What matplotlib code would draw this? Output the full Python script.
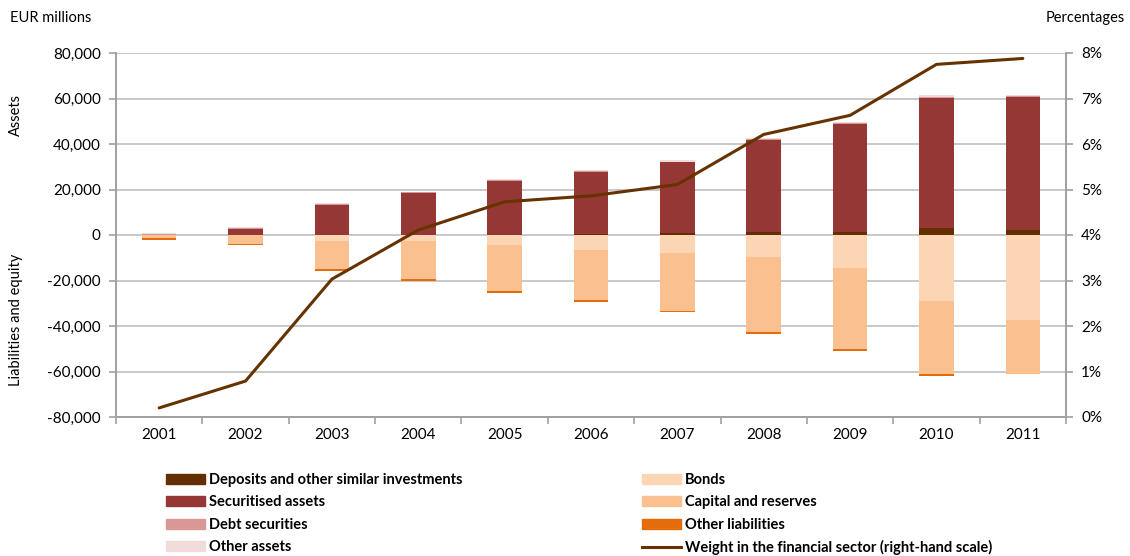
import matplotlib
matplotlib.use("Agg")
import matplotlib.pyplot as plt
import numpy as np
from matplotlib.patches import Patch
from matplotlib.lines import Line2D
from matplotlib.ticker import FuncFormatter, MultipleLocator

plt.rcParams['font.family'] = ['Lato', 'DejaVu Sans']

years = ['2001', '2002', '2003', '2004', '2005', '2006', '2007', '2008', '2009', '2010', '2011']

# Assets (EUR millions)
deposits = [0, 0, 100, 200, 200, 300, 700, 1500, 1500, 3000, 2300]
securitised = [0, 2800, 13200, 18400, 23700, 27500, 31300, 40200, 47100, 57300, 58200]
debt_securities = [600, 200, 300, 200, 300, 300, 300, 400, 500, 500, 500]
other_assets = [300, 500, 500, 300, 400, 500, 500, 600, 700, 600, 600]

# Liabilities and equity (EUR millions)
bonds = [0, 0, -2500, -2600, -4400, -6600, -7800, -9700, -14500, -29200, -37400]
capital = [-1300, -3800, -12600, -16900, -20200, -21800, -25500, -32800, -35600, -32100, -23900]
other_liab = [-700, -500, -600, -700, -700, -900, -600, -1200, -800, -700, 0]

# Weight in the financial sector (%)
weight = [0.2, 0.79, 3.03, 4.11, 4.73, 4.86, 5.11, 6.21, 6.63, 7.75, 7.88]

c_dep = '#632F00'
c_sec = '#953735'
c_debt = '#D99795'
c_oth = '#F2DCDB'
c_bond = '#FCD5B5'
c_cap = '#FAC090'
c_oliab = '#E46C0A'
c_line = '#663300'
grid_c = '#BFBFBF'

fig = plt.figure(figsize=(11.3, 5.56), dpi=100)
ax = fig.add_axes([116/1130, 1-417/556, (1066-116)/1130, (417-53)/556])
ax2 = ax.twinx()

x = np.arange(len(years))
w = 0.4

# positive stack
bottom = np.zeros(len(years))
for vals, col in [(deposits, c_dep), (securitised, c_sec), (debt_securities, c_debt), (other_assets, c_oth)]:
    v = np.array(vals, dtype=float)
    ax.bar(x, v, w, bottom=bottom, color=col, zorder=3, linewidth=0)
    bottom += v
# negative stack
bottom = np.zeros(len(years))
for vals, col in [(bonds, c_bond), (capital, c_cap), (other_liab, c_oliab)]:
    v = np.array(vals, dtype=float)
    ax.bar(x, v, w, bottom=bottom, color=col, zorder=3, linewidth=0)
    bottom += v

ax.set_ylim(-80000, 80000)
ax.set_xlim(-0.5, len(years) - 0.5)
ax.yaxis.set_major_locator(MultipleLocator(20000))
ax.yaxis.set_major_formatter(FuncFormatter(lambda v, p: f'{int(v):,}'))
ax.grid(axis='y', color=grid_c, linewidth=1.2, zorder=0)
ax.set_axisbelow(True)
ax.set_xticks(x)
ax.set_xticklabels(years)
ax.set_xticks(np.arange(-0.5, len(years)), minor=True)
ax.tick_params(axis='x', which='major', length=0, labelsize=11, pad=8, colors='#000000')
ax.tick_params(axis='x', which='minor', length=5, color='#A0A0A0', width=1.2)
ax.tick_params(axis='y', length=5, color='#A0A0A0', width=1.2, labelsize=11, pad=6)

for s in ['top']:
    ax.spines[s].set_visible(False)
    ax2.spines[s].set_visible(False)
for a in (ax, ax2):
    for s in ['left', 'right', 'bottom']:
        a.spines[s].set_color('#A0A0A0')
        a.spines[s].set_linewidth(1.2)

ax2.plot(x, weight, color=c_line, linewidth=2.2, zorder=5, solid_capstyle='round')
ax2.set_ylim(0, 8)
ax2.yaxis.set_major_locator(MultipleLocator(1))
ax2.yaxis.set_major_formatter(FuncFormatter(lambda v, p: f'{int(round(v))}%'))
ax2.tick_params(axis='y', length=5, color='#A0A0A0', width=1.2, labelsize=11, pad=6)

fig.text(10/1130, 1-18/556, 'EUR millions', fontsize=10.5, va='center', ha='left')
fig.text(1125/1130, 1-18/556, 'Percentages', fontsize=10.5, va='center', ha='right')
fig.text(16/1130, 1-115/556, 'Assets', fontsize=10.5, rotation=90, va='center', ha='center')
fig.text(16/1130, 1-320/556, 'Liabilities and equity', fontsize=10.5, rotation=90, va='center', ha='center')

leg_font = {'family': ['Lato', 'DejaVu Sans'], 'weight': 'bold', 'size': 10.5}
h_left = [Patch(color=c_dep), Patch(color=c_sec), Patch(color=c_debt), Patch(color=c_oth)]
l_left = ['Deposits and other similar investments', 'Securitised assets', 'Debt securities', 'Other assets']
h_right = [Patch(color=c_bond), Patch(color=c_cap), Patch(color=c_oliab), Line2D([], [], color=c_line, linewidth=2.2)]
l_right = ['Bonds', 'Capital and reserves', 'Other liabilities', 'Weight in the financial sector (right-hand scale)']

for hs, ls, xpos in [(h_left, l_left, 166/1130), (h_right, l_right, 642/1130)]:
    lg = fig.legend(hs, ls, loc='upper left', bbox_to_anchor=(xpos, 1-473/556), frameon=False,
                    prop=leg_font, handlelength=2.67, handleheight=0.7, handletextpad=0.25,
                    labelspacing=0.58, borderaxespad=0, borderpad=0)

fig.savefig('out.png', dpi=100)
